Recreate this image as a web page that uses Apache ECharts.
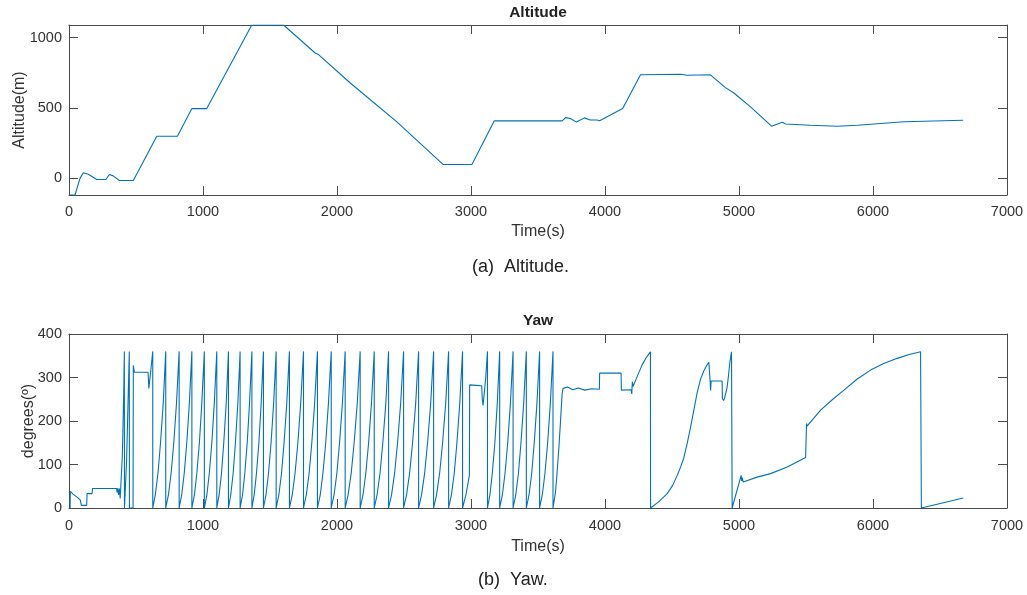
<!DOCTYPE html>
<html>
<head>
<meta charset="utf-8">
<script src="https://cdn.jsdelivr.net/npm/echarts@6/dist/echarts.min.js"></script>
<style>
  html, body { margin: 0; padding: 0; background: #ffffff; }
  #chart { width: 1027px; height: 595px; }
</style>
</head>
<body>
<div id="chart"></div>
<script>
// Flight log: altitude and yaw against time
const timeTicks = [0, 1000, 2000, 3000, 4000, 5000, 6000, 7000];
const altitudeTicks = [0, 500, 1000];
const altitudeRange = [-118, 1090];
const yawTicks = [0, 100, 200, 300, 400];

// [time (s), altitude (m)]
const altitudePoints = [
  [0, -118], [45, -118], [82, 0], [107, 40], [144, 30], [207, -8], [276, -8],
  [301, 28], [330, 18], [376, -15], [480, -15], [655, 300], [809, 300],
  [917, 496], [1028, 496], [1364, 1090], [1601, 1090], [1837, 891], [1862, 880],
  [2099, 678], [2447, 402], [2791, 99], [3007, 99], [3174, 409], [3680, 409],
  [3705, 432], [3742, 425], [3787, 400], [3846, 430], [3890, 415], [3940, 415],
  [3960, 409], [4132, 496], [4265, 737], [4563, 740], [4613, 733], [4787, 736],
  [4899, 645], [4962, 607], [5086, 508], [5243, 371], [5323, 399], [5348, 387],
  [5534, 378], [5733, 371], [5883, 378], [6231, 402], [6673, 413]
];

// [time (s), yaw (deg)]
const yawPoints = [
  [8, 0], [10, 38], [30, 32], [60, 25], [85, 18], [92, 6], [132, 6], [135, 33], [172, 33],
  [176, 45], [355, 45], [359, 36], [364, 45], [370, 30], [376, 45], [382, 22], [386, 22],
  [398, 120], [408, 260], [413, 360], [414, 0], [430, 110], [442, 260], [450, 360],
  [451, 0], [478, 0], [480, 328], [488, 312], [590, 312], [596, 275], [602, 272],
  [615, 330], [625, 360],
  [625, 0], [644, 30], [664, 80], [683, 150], [703, 240], [722, 360],
  [722, 0], [742, 30], [762, 80], [782, 150], [802, 240], [822, 360],
  [822, 0], [841, 30], [860, 80], [879, 150], [898, 240], [917, 360],
  [917, 0], [936, 30], [954, 80], [973, 150], [991, 240], [1010, 360],
  [1010, 0], [1029, 30], [1047, 80], [1066, 150], [1084, 240], [1103, 360],
  [1103, 0], [1120, 30], [1138, 80], [1155, 150], [1173, 240], [1190, 360],
  [1190, 0], [1207, 30], [1225, 80], [1242, 150], [1260, 240], [1277, 360],
  [1277, 0], [1295, 30], [1312, 80], [1330, 150], [1347, 240], [1365, 360],
  [1365, 0], [1382, 30], [1399, 80], [1417, 150], [1434, 240], [1451, 360],
  [1451, 0], [1470, 30], [1489, 80], [1508, 150], [1527, 240], [1546, 360],
  [1546, 0], [1566, 30], [1586, 80], [1605, 150], [1625, 240], [1645, 360],
  [1645, 0], [1666, 30], [1687, 80], [1708, 150], [1729, 240], [1750, 360],
  [1750, 0], [1771, 30], [1792, 80], [1812, 150], [1833, 240], [1854, 360],
  [1854, 0], [1875, 30], [1895, 80], [1916, 150], [1936, 240], [1957, 360],
  [1957, 0], [1978, 30], [1999, 80], [2019, 150], [2040, 240], [2061, 360],
  [2061, 0], [2083, 30], [2106, 80], [2128, 150], [2151, 240], [2173, 360],
  [2173, 0], [2194, 30], [2215, 80], [2236, 150], [2257, 240], [2278, 360],
  [2278, 0], [2299, 30], [2321, 80], [2342, 150], [2364, 240], [2385, 360],
  [2385, 0], [2407, 30], [2430, 80], [2452, 150], [2475, 240], [2497, 360],
  [2497, 0], [2519, 30], [2542, 80], [2564, 150], [2587, 240], [2609, 360],
  [2609, 0], [2631, 30], [2654, 80], [2676, 150], [2699, 240], [2721, 360],
  [2721, 0], [2743, 30], [2766, 80], [2788, 150], [2811, 240], [2833, 360],
  [2833, 0], [2854, 30], [2875, 80], [2895, 150], [2916, 240], [2937, 360],
  [2937, 0], [2962, 30], [2988, 75], [2990, 283], [3000, 280], [3040, 282], [3080, 281],
  [3084, 250], [3090, 236], [3096, 234], [3110, 300], [3123, 360],
  [3123, 0], [3141, 30], [3159, 80], [3178, 150], [3196, 240], [3214, 360],
  [3214, 0], [3234, 30], [3254, 80], [3274, 150], [3294, 240], [3314, 360],
  [3314, 0], [3334, 30], [3354, 80], [3373, 150], [3393, 240], [3413, 360],
  [3413, 0], [3433, 30], [3453, 80], [3472, 150], [3492, 240], [3512, 360],
  [3512, 0], [3532, 30], [3552, 80], [3572, 150], [3592, 240], [3612, 360],
  [3612, 0], [3630, 35], [3642, 79], [3655, 135], [3667, 194], [3680, 263], [3687, 275],
  [3720, 278], [3760, 272], [3800, 276], [3850, 271], [3900, 274], [3958, 273], [3960, 310],
  [4120, 310], [4122, 271], [4195, 272], [4200, 262], [4204, 290], [4210, 280], [4240, 302],
  [4277, 329], [4310, 347], [4339, 359],
  [4340, 0], [4400, 14], [4464, 33], [4505, 52], [4539, 75], [4565, 95], [4588, 115],
  [4613, 148], [4638, 185], [4663, 225], [4688, 265], [4712, 295], [4737, 315], [4760, 328],
  [4775, 335], [4785, 290], [4788, 270], [4792, 292], [4874, 292], [4876, 252], [4885, 247],
  [4892, 252], [4899, 250], [4910, 275], [4920, 300], [4932, 335], [4944, 359],
  [4949, 0], [5016, 75], [5020, 62], [5024, 70], [5031, 60], [5135, 71], [5236, 79],
  [5360, 94], [5497, 116], [5504, 194], [5508, 188], [5609, 225], [5700, 250], [5783, 271],
  [5880, 296], [5982, 317], [6080, 332], [6181, 344], [6270, 353], [6355, 359],
  [6361, 0], [6674, 23]
];

const FONT = '"Liberation Sans", Arial, Helvetica, sans-serif';
const AXIS_COLOR = '#4a4a4a';
const TEXT_COLOR = '#333333';
const LINE_COLOR = '#0072BD';
const plainNumber = v => String(v);

function xAxisPair(gridIndex, labelMargin, nameGap) {
  const base = {
    type: 'value', gridIndex: gridIndex,
    min: timeTicks[0], max: timeTicks[timeTicks.length - 1],
    interval: timeTicks[1] - timeTicks[0],
    axisLine: { show: true, onZero: false, lineStyle: { color: AXIS_COLOR, width: 1 } },
    axisTick: { show: true, inside: true, length: 9, lineStyle: { color: AXIS_COLOR } },
    splitLine: { show: false }
  };
  return [
    Object.assign({}, base, {
      position: 'bottom',
      name: 'Time(s)', nameLocation: 'middle', nameGap: nameGap, nameMoveOverlap: false,
      nameTextStyle: { fontFamily: FONT, fontSize: 16, color: TEXT_COLOR },
      axisLabel: { show: true, margin: labelMargin, formatter: plainNumber,
        fontFamily: FONT, fontSize: 14.5, color: TEXT_COLOR }
    }),
    Object.assign({}, base, { position: 'top', axisLabel: { show: false } })
  ];
}

function yAxisPair(gridIndex, range, ticks, name, nameGap, useCustom) {
  const base = {
    type: 'value', gridIndex: gridIndex,
    min: range[0], max: range[1],
    axisLine: { show: true, onZero: false, lineStyle: { color: AXIS_COLOR, width: 1 } },
    axisTick: { show: true, inside: true, length: 9, lineStyle: { color: AXIS_COLOR } },
    splitLine: { show: false }
  };
  if (useCustom) {
    base.axisTick.customValues = ticks;
  } else {
    base.interval = ticks[1] - ticks[0];
  }
  const left = Object.assign({}, base, {
    position: 'left',
    name: name, nameLocation: 'middle', nameGap: nameGap, nameMoveOverlap: false,
    nameTextStyle: { fontFamily: FONT, fontSize: 16, color: TEXT_COLOR },
    axisLabel: { show: true, margin: 7, formatter: plainNumber,
      fontFamily: FONT, fontSize: 14.5, color: TEXT_COLOR }
  });
  if (useCustom) left.axisLabel.customValues = ticks;
  const right = Object.assign({}, base, { position: 'right', axisLabel: { show: false } });
  return [left, right];
}

const chart = echarts.init(document.getElementById('chart'), null, { renderer: 'canvas' });

const xs = xAxisPair(0, 9, 29).concat(xAxisPair(1, 10, 31));
const ys = yAxisPair(0, altitudeRange, altitudeTicks, 'Altitude(m)', 41, true)
  .concat(yAxisPair(1, [yawTicks[0], yawTicks[yawTicks.length - 1]], yawTicks, 'degrees(\u00ba)', 32, false));

chart.setOption({
  animation: false,
  backgroundColor: '#ffffff',
  title: [
    { text: 'Altitude', left: 538, top: 5, textAlign: 'center', padding: 0,
      textStyle: { fontFamily: FONT, fontSize: 15.5, fontWeight: 'bold', color: '#222' } },
    { text: 'Yaw', left: 538, top: 313, textAlign: 'center', padding: 0,
      textStyle: { fontFamily: FONT, fontSize: 15.5, fontWeight: 'bold', color: '#222' } },
    { text: '(a)  Altitude.', left: 472, top: 258, padding: 0,
      textStyle: { fontFamily: FONT, fontSize: 18, fontWeight: 'normal', color: '#222' } },
    { text: '(b)  Yaw.', left: 478, top: 571, padding: 0,
      textStyle: { fontFamily: FONT, fontSize: 18, fontWeight: 'normal', color: '#222' } }
  ],
  grid: [
    { left: 69, right: 20, top: 25, height: 170, containLabel: false, outerBoundsMode: 'none' },
    { left: 69, right: 20, top: 334, height: 174, containLabel: false, outerBoundsMode: 'none' }
  ],
  xAxis: xs,
  yAxis: ys,
  series: [
    {
      name: 'Altitude', type: 'line', xAxisIndex: 0, yAxisIndex: 0,
      data: altitudePoints, showSymbol: false, clip: true,
      lineStyle: { color: LINE_COLOR, width: 1.1 }
    },
    {
      name: 'Yaw', type: 'line', xAxisIndex: 2, yAxisIndex: 2,
      data: yawPoints, showSymbol: false, clip: true,
      lineStyle: { color: LINE_COLOR, width: 1.1 }
    }
  ]
});
</script>
</body>
</html>
